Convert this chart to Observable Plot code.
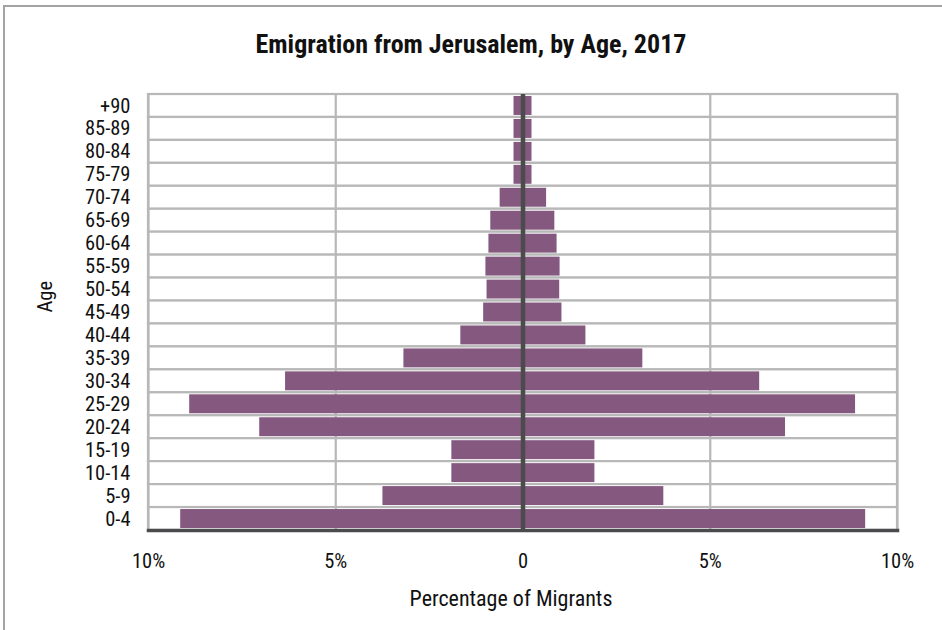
<!DOCTYPE html>
<html>
<head>
<meta charset="utf-8">
<script src="https://cdn.jsdelivr.net/npm/d3@7"></script>
<script src="https://cdn.jsdelivr.net/npm/@observablehq/plot@0.6"></script>
<style>
  html, body { margin: 0; padding: 0; background: #fff; }
  body { width: 942px; height: 630px; position: relative; overflow: hidden;
         font-family: "Roboto Condensed", "Roboto", sans-serif; font-stretch: 75%; }
  #box { position: absolute; left: 3px; top: 5px; right: -10px; bottom: -10px;
         border-top: 2px solid #a3a3a3; border-left: 2px solid #a3a3a3; }
  #title { position: absolute; left: 0; width: 942px; top: 29px; text-align: center;
           font-weight: bold; font-size: 26px; line-height: 30px; color: #111; }
  #chart { position: absolute; left: 0; top: 80px; }
  #chart svg text { font-stretch: 75%; }
</style>
</head>
<body>
<div id="box"></div>
<div id="title">Emigration from Jerusalem, by Age, 2017</div>
<div id="chart"></div>
<script>
// Age groups, top row first
const ages = ["+90", "85-89", "80-84", "75-79", "70-74", "65-69", "60-64", "55-59", "50-54",
              "45-49", "40-44", "35-39", "30-34", "25-29", "20-24", "15-19", "10-14", "5-9", "0-4"];
// Percentage of migrants, drawn to the left of zero
const leftSide = [0.24, 0.24, 0.24, 0.24, 0.61, 0.86, 0.91, 0.99, 0.96,
                  1.05, 1.66, 3.18, 6.34, 8.9, 7.03, 1.9, 1.9, 3.74, 9.14];
// Percentage of migrants, drawn to the right of zero
const rightSide = [0.24, 0.24, 0.24, 0.24, 0.63, 0.85, 0.91, 0.99, 0.98,
                   1.04, 1.68, 3.2, 6.32, 8.88, 7.01, 1.92, 1.92, 3.76, 9.15];
const xTicks = [-10, -5, 0, 5, 10];
const gridX = [-10, -5, 5, 10];
const xLabel = "Percentage of Migrants";
const yLabel = "Age";

const rows = ages.flatMap((age, i) => [
  {age, value: -leftSide[i]},
  {age, value: rightSide[i]}
]);

const font = '"Roboto Condensed", "Roboto", sans-serif';
const grid = "#b8b8b8";
const dark = "#4b4a4d";

const chart = Plot.plot({
  width: 942,
  height: 550,
  marginTop: 14,
  marginBottom: 100,
  marginLeft: 148,
  marginRight: 45,
  style: {fontFamily: font, fontSize: "20.5px", color: "#111", background: "transparent"},
  x: {domain: [-10, 10], ticks: xTicks},
  y: {domain: ages, padding: 0, round: false},
  marks: [
    // one outlined cell per age row gives the horizontal grid
    Plot.barX(ages, {x1: -10, x2: 10, y: d => d, fill: "white", stroke: grid, strokeWidth: 2.2}),
    Plot.ruleX(gridX, {stroke: grid, strokeWidth: 2.2}),
    Plot.barX(rows, {x: "value", y: "age", fill: "#84587f", insetTop: 2, insetBottom: 2}),
    Plot.ruleX([0], {stroke: dark, strokeWidth: 4.5}),
    Plot.frame({anchor: "bottom", stroke: dark, strokeWidth: 3.5}),
    Plot.axisX({ticks: xTicks, tickSize: 0, tickPadding: 23, label: null,
                tickFormat: d => d === 0 ? "0" : Math.abs(d) + "%", fontSize: 20.5}),
    Plot.axisY({tickSize: 0, tickPadding: 18, label: null, fontSize: 20.5}),
    Plot.text([xLabel], {frameAnchor: "bottom", dy: 75, dx: -12, fontSize: 22}),
    Plot.text([yLabel], {frameAnchor: "left", dx: -103, rotate: -90, fontSize: 20.5})
  ]
});
document.getElementById("chart").appendChild(chart);
</script>
</body>
</html>
